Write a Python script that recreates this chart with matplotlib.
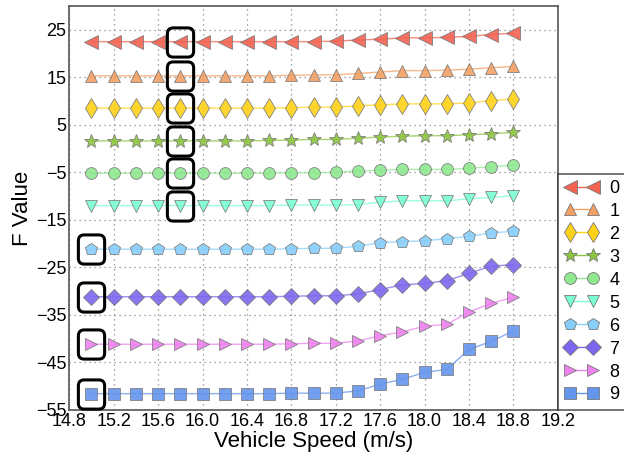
import numpy as np
import matplotlib.pyplot as plt
from matplotlib.patches import FancyBboxPatch

# Data
speed = [15.0, 15.2, 15.4, 15.6, 15.8, 16.0, 16.2, 16.4, 16.6, 16.8,
         17.0, 17.2, 17.4, 17.6, 17.8, 18.0, 18.2, 18.4, 18.6, 18.8]

f0 = [22.5, 22.5, 22.5, 22.5, 22.5, 22.5, 22.5, 22.5, 22.5, 22.5,
      22.5, 22.6, 22.85, 23.0, 23.3, 23.3, 23.4, 23.6, 24.0, 24.3]
f1 = [15.3, 15.3, 15.3, 15.3, 15.3, 15.3, 15.3, 15.3, 15.3, 15.4,
      15.5, 15.5, 15.8, 16.1, 16.4, 16.4, 16.5, 16.7, 17.0, 17.3]
f2 = [8.5, 8.5, 8.5, 8.5, 8.5, 8.5, 8.5, 8.5, 8.5, 8.6,
      8.7, 8.7, 9.0, 9.2, 9.4, 9.4, 9.4, 9.6, 10.1, 10.4]
f3 = [1.6, 1.6, 1.6, 1.6, 1.6, 1.6, 1.6, 1.6, 1.7, 1.8,
      1.9, 1.9, 2.2, 2.4, 2.6, 2.7, 2.7, 2.9, 3.1, 3.4]
f4 = [-5.2, -5.2, -5.2, -5.2, -5.2, -5.2, -5.2, -5.2, -5.2, -5.1,
      -5.1, -5.0, -4.7, -4.6, -4.4, -4.4, -4.4, -4.2, -3.8, -3.5]
f5 = [-12.0, -12.0, -12.0, -12.0, -12.0, -12.0, -12.0, -12.0, -12.0, -11.9,
      -11.9, -11.9, -11.8, -11.3, -11.0, -11.0, -11.0, -10.6, -10.3, -9.9]
f6 = [-21.2, -21.2, -21.2, -21.2, -21.2, -21.2, -21.2, -21.2, -21.2, -21.1,
      -21.0, -21.0, -20.6, -19.8, -19.6, -19.4, -19.0, -18.5, -17.8, -17.4]
f7 = [-31.2, -31.2, -31.2, -31.2, -31.2, -31.2, -31.2, -31.2, -31.2, -31.1,
      -31.0, -31.0, -30.6, -29.7, -28.7, -28.4, -27.8, -26.3, -24.7, -24.5]
f8 = [-41.2, -41.2, -41.2, -41.2, -41.2, -41.2, -41.2, -41.2, -41.2, -41.1,
      -41.0, -41.0, -40.5, -39.4, -38.6, -37.4, -37.0, -34.4, -32.6, -31.3]
f9 = [-51.6, -51.6, -51.6, -51.6, -51.6, -51.6, -51.6, -51.6, -51.6, -51.5,
      -51.5, -51.5, -51.0, -49.6, -48.6, -47.1, -46.5, -42.3, -40.6, -38.4]

series = [f0, f1, f2, f3, f4, f5, f6, f7, f8, f9]
labels = ["0", "1", "2", "3", "4", "5", "6", "7", "8", "9"]
markers = ["<", "^", "d", "*", "o", "v", "p", "D", ">", "s"]
colors = ["#f26352", "#f4a064", "#ffd21a", "#8cc63f", "#90e890",
          "#7affd0", "#87cefa", "#7b68ee", "#ee82ee", "#6495ed"]
sizes = [9.5, 9, 10, 10.5, 8.5, 9, 9, 8.5, 9, 9]

# Highlighted points: (series index, speed)
boxed_series = [0, 1, 2, 3, 4, 5, 6, 7, 8, 9]
boxed_speed = [15.8, 15.8, 15.8, 15.8, 15.8, 15.8, 15.0, 15.0, 15.0, 15.0]

plt.rcParams['font.family'] = ['Liberation Sans', 'DejaVu Sans']

fig = plt.figure(figsize=(6.24, 4.62), dpi=100)
ax = fig.add_axes([0.111, 0.113, 0.783, 0.874])

for vals, lab, mk, col, ms in zip(series, labels, markers, colors, sizes):
    ax.plot(speed, vals, color=col, lw=1.0, alpha=0.75, zorder=2)
    ax.plot(speed, vals, linestyle="none", marker=mk, markersize=ms,
            markerfacecolor=col, markeredgecolor="#777777",
            markeredgewidth=0.6, alpha=0.9, zorder=3)
    # legend proxy
    ax.plot([], [], color=col, lw=1.0, marker=mk, markersize=ms,
            markerfacecolor=col, markeredgecolor="#777777",
            markeredgewidth=0.6, label=lab)

# Rounded box marker (slightly taller than wide) for the highlighted points
box = FancyBboxPatch((-0.45, -0.5), 0.9, 1.0,
                     boxstyle="round,pad=0,rounding_size=0.2")
box_path = box.get_path()
for si, sp in zip(boxed_series, boxed_speed):
    yv = series[si][speed.index(sp)]
    ax.plot([sp], [yv], linestyle="none", marker=box_path, markersize=21,
            markerfacecolor="none", markeredgecolor="black",
            markeredgewidth=2.2, zorder=4)

ax.set_xlim(14.8, 19.2)
ax.set_ylim(-55, 30)
ax.set_xticks(np.arange(14.8, 19.21, 0.4))
ax.set_xticklabels([f"{v:.1f}" for v in np.arange(14.8, 19.21, 0.4)])
ax.set_yticks([25, 15, 5, -5, -15, -25, -35, -45, -55])
ax.set_yticklabels(["25", "15", "5", "\u22125", "\u221215", "\u221225",
                    "\u221235", "\u221245", "\u221255"])
ax.tick_params(labelsize=13, length=0, pad=2)
ax.grid(True, linestyle=(0, (1, 3)), color="#888888", lw=0.9)
for s in ax.spines.values():
    s.set_color("#555555")
    s.set_linewidth(1.2)

ax.set_xlabel("Vehicle Speed (m/s)", fontsize=16, labelpad=1)
ax.set_ylabel("F Value", fontsize=16, labelpad=2)

leg = ax.legend(loc="lower left", bbox_to_anchor=(1.0, 0.0), borderaxespad=0,
                numpoints=2, fontsize=13, handlelength=1.9, handletextpad=0.6,
                labelspacing=0.33, borderpad=0.35, fancybox=False,
                frameon=True)
leg.get_frame().set_edgecolor("#333333")
leg.get_frame().set_linewidth(1.2)

fig.savefig("out.png", dpi=100)
